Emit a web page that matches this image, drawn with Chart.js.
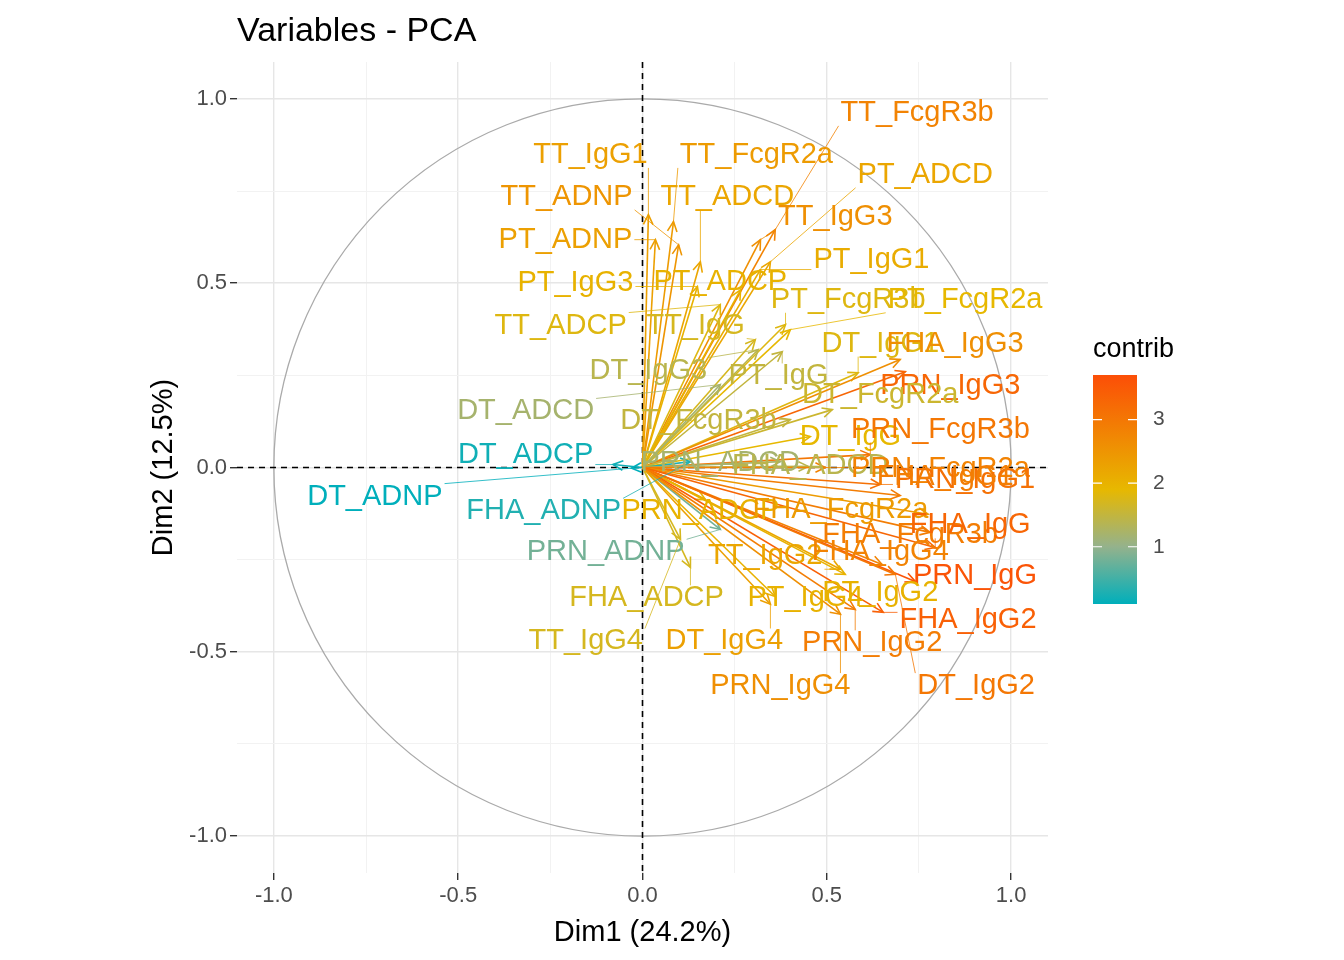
<!DOCTYPE html>
<html>
<head>
<meta charset="utf-8">
<script src="https://cdn.jsdelivr.net/npm/chart.js@4/dist/chart.umd.min.js"></script>
<style>
  body { margin:0; background:#fff; }
  #wrap { width:1344px; height:960px; }
</style>
</head>
<body>
<div id="wrap"><canvas id="pca"></canvas></div>
<script>
// variable names, coordinates on Dim1/Dim2 and contribution
var names = ["TT_IgG1","TT_FcgR2a","TT_FcgR3b","TT_ADNP","TT_ADCD","PT_ADCD","TT_IgG3","PT_ADNP","PT_IgG1","PT_IgG3",
  "PT_ADCP","PT_FcgR3b","PT_FcgR2a","TT_ADCP","TT_IgG","DT_IgG3","PT_IgG","DT_IgG1","FHA_IgG3","PRN_IgG3",
  "DT_ADCD","DT_FcgR2a","DT_FcgR3b","DT_IgG","PRN_FcgR3b","DT_ADCP","DT_ADNP","FHA_ADNP","PRN_ADCD","FHA_ADCD",
  "PRN_FcgR2a","PRN_IgG1","FHA_IgG1","PRN_ADCP","FHA_FcgR2a","FHA_FcgR3b","FHA_IgG","PRN_ADNP","TT_IgG2","FHA_IgG4",
  "PRN_IgG","FHA_ADCP","PT_IgG4","PT_IgG2","FHA_IgG2","TT_IgG4","DT_IgG4","PRN_IgG2","PRN_IgG4","DT_IgG2"];
var dim1 = [0.016,0.084,0.360,0.098,0.157,0.347,0.320,0.035,0.320,0.149,
  0.266,0.388,0.401,0.211,0.306,0.314,0.379,0.585,0.699,0.713,
  0.211,0.515,0.401,0.455,0.618,-0.080,-0.030,0.130,0.374,0.450,
  0.496,0.645,0.699,0.171,0.775,0.780,0.794,0.211,0.537,0.650,
  0.740,0.130,0.360,0.550,0.653,0.103,0.347,0.577,0.537,0.686];
var dim2 = [0.686,0.667,0.645,0.604,0.558,0.558,0.618,0.618,0.537,0.491,
  0.482,0.388,0.374,0.442,0.347,0.320,0.314,0.257,0.293,0.260,
  0.225,0.157,0.130,0.084,0.035,0.008,-0.002,0.016,0.016,0.003,
  0.000,-0.046,-0.076,-0.087,-0.127,-0.176,-0.217,-0.168,-0.276,-0.263,
  -0.309,-0.271,-0.350,-0.290,-0.393,-0.195,-0.371,-0.385,-0.398,-0.290];
var contrib = [2.3,2.4,2.8,2.5,2.2,2.2,2.6,2.3,2.1,2.0,
  2.0,1.8,1.9,1.8,1.7,1.4,1.5,1.8,2.6,3.3,
  1.2,1.6,1.5,1.9,3.0,0.2,0.1,0.3,1.2,1.4,
  2.8,3.1,2.9,2.0,2.4,2.9,3.3,0.8,2.2,2.8,
  3.6,1.7,2.0,2.0,3.4,1.7,2.3,2.9,2.6,3.0];
// repelled label centres (data units)
var labelX = [-0.141,0.309,0.745,-0.206,0.230,0.767,0.523,-0.209,0.621,-0.182,
  0.211,0.558,0.875,-0.222,0.144,0.016,0.369,0.645,0.848,0.835,
  -0.317,0.645,0.152,0.564,0.808,-0.317,-0.726,-0.268,0.211,0.455,
  0.808,0.875,0.821,0.157,0.537,0.726,0.889,-0.100,0.333,0.645,
  0.902,0.011,0.442,0.645,0.883,-0.154,0.222,0.623,0.374,0.905];
var labelY = [0.848,0.848,0.962,0.734,0.734,0.794,0.680,0.618,0.564,0.501,
  0.504,0.455,0.455,0.385,0.385,0.263,0.247,0.336,0.336,0.220,
  0.152,0.198,0.127,0.084,0.103,0.035,-0.079,-0.119,0.011,0.005,
  -0.005,-0.033,-0.027,-0.119,-0.114,-0.182,-0.157,-0.230,-0.241,-0.228,
  -0.295,-0.355,-0.355,-0.341,-0.415,-0.472,-0.472,-0.477,-0.593,-0.593];
var axisTicks = [-1, -0.75, -0.5, -0.25, 0, 0.25, 0.5, 0.75, 1];
var contribMin = 0.1, contribMax = 3.7;
var legendTicks = [1, 2, 3];
var gradStops = [0, 0.25, 0.5, 1];
var gradCols = [[0,175,187],[148,178,140],[231,184,0],[252,78,7]];

var FONT = "'Liberation Sans', Arial, sans-serif";

function colorFor(v){
  var t = (v - contribMin) / (contribMax - contribMin);
  t = Math.max(0, Math.min(1, t));
  var k = 0;
  while (k < gradStops.length - 2 && t > gradStops[k + 1]) k++;
  var u = (t - gradStops[k]) / (gradStops[k + 1] - gradStops[k]);
  var a = gradCols[k], b = gradCols[k + 1];
  var c = a.map(function(x, i){ return Math.round(x + (b[i] - x) * u); });
  return "rgb(" + c.join(",") + ")";
}

function isMajor(v){ return Math.abs(v * 2 - Math.round(v * 2)) < 1e-6; }

var pcaPlugin = {
  id: "pca",
  beforeDatasetsDraw: function(chart){
    var ctx = chart.ctx, xs = chart.scales.x, ys = chart.scales.y, a = chart.chartArea;
    ctx.save();
    var cx = xs.getPixelForValue(0), cy = ys.getPixelForValue(0);
    var r = xs.getPixelForValue(1) - cx;
    ctx.strokeStyle = "#aaaaaa"; ctx.lineWidth = 1.3;
    ctx.beginPath(); ctx.arc(cx, cy, r, 0, Math.PI * 2); ctx.stroke();
    ctx.strokeStyle = "#000"; ctx.lineWidth = 1.6; ctx.setLineDash([6, 5]);
    ctx.beginPath(); ctx.moveTo(a.left, cy); ctx.lineTo(a.right, cy); ctx.stroke();
    ctx.beginPath(); ctx.moveTo(cx, a.top); ctx.lineTo(cx, a.bottom); ctx.stroke();
    ctx.restore();
  },
  afterDatasetsDraw: function(chart){
    var ctx = chart.ctx, xs = chart.scales.x, ys = chart.scales.y;
    var ox = xs.getPixelForValue(0), oy = ys.getPixelForValue(0);
    ctx.save();
    ctx.font = "29px " + FONT;
    ctx.textAlign = "center"; ctx.textBaseline = "middle";
    names.forEach(function(n, i){
      var px = xs.getPixelForValue(dim1[i]), py = ys.getPixelForValue(dim2[i]);
      ctx.strokeStyle = colorFor(contrib[i]); ctx.lineWidth = 1.6;
      ctx.beginPath(); ctx.moveTo(ox, oy); ctx.lineTo(px, py); ctx.stroke();
      var ang = Math.atan2(py - oy, px - ox), h = 11;
      ctx.beginPath();
      ctx.moveTo(px - h * Math.cos(ang - 0.45), py - h * Math.sin(ang - 0.45));
      ctx.lineTo(px, py);
      ctx.lineTo(px - h * Math.cos(ang + 0.45), py - h * Math.sin(ang + 0.45));
      ctx.stroke();
    });
    names.forEach(function(n, i){
      var px = xs.getPixelForValue(dim1[i]), py = ys.getPixelForValue(dim2[i]);
      var lx = xs.getPixelForValue(labelX[i]), ly = ys.getPixelForValue(labelY[i]);
      var w = ctx.measureText(n).width / 2 + 2, hh = 13;
      var qx = Math.max(lx - w, Math.min(lx + w, px));
      var qy = Math.max(ly - hh, Math.min(ly + hh, py));
      var col = colorFor(contrib[i]);
      if (Math.hypot(qx - px, qy - py) > 8) {
        ctx.strokeStyle = col; ctx.lineWidth = 0.8;
        ctx.beginPath(); ctx.moveTo(px, py); ctx.lineTo(qx, qy); ctx.stroke();
      }
      ctx.fillStyle = col;
      ctx.fillText(n, lx, ly);
    });
    ctx.restore();
  },
  afterDraw: function(chart){
    var ctx = chart.ctx, a = chart.chartArea;
    ctx.save();
    ctx.fillStyle = "#000";
    ctx.font = "34px " + FONT; ctx.textAlign = "left"; ctx.textBaseline = "alphabetic";
    ctx.fillText("Variables - PCA", a.left, 41);
    ctx.font = "29px " + FONT; ctx.textAlign = "center";
    ctx.fillText("Dim1 (24.2%)", (a.left + a.right) / 2, 941);
    ctx.save();
    ctx.translate(172, (a.top + a.bottom) / 2); ctx.rotate(-Math.PI / 2);
    ctx.fillText("Dim2 (12.5%)", 0, 0);
    ctx.restore();
    // colour bar legend
    var bx = 1093, bw = 44, top = 375, bot = 604;
    var g = ctx.createLinearGradient(0, bot, 0, top);
    gradStops.forEach(function(s, k){ g.addColorStop(s, "rgb(" + gradCols[k].join(",") + ")"); });
    ctx.fillStyle = g; ctx.fillRect(bx, top, bw, bot - top);
    ctx.textAlign = "left";
    ctx.fillStyle = "#000"; ctx.font = "27px " + FONT;
    ctx.fillText("contrib", bx, 357);
    ctx.font = "21px " + FONT; ctx.fillStyle = "#4d4d4d"; ctx.textBaseline = "middle";
    legendTicks.forEach(function(t){
      var y = bot - (t - contribMin) / (contribMax - contribMin) * (bot - top);
      ctx.strokeStyle = "#fff"; ctx.lineWidth = 1.2;
      ctx.beginPath(); ctx.moveTo(bx, y); ctx.lineTo(bx + 9, y);
      ctx.moveTo(bx + bw - 9, y); ctx.lineTo(bx + bw, y); ctx.stroke();
      ctx.fillText(String(t), 1153, y);
    });
    ctx.restore();
  }
};

function axisOpts(){
  return {
    type: "linear", min: -1.1, max: 1.1,
    border: { display: false },
    afterBuildTicks: function(s){ s.ticks = axisTicks.map(function(v){ return { value: v }; }); },
    grid: {
      color: function(c){ return isMajor(c.tick.value) ? "#e6e6e6" : "#f2f2f2"; },
      lineWidth: function(c){ return isMajor(c.tick.value) ? 1.4 : 1; },
      tickColor: function(c){ return isMajor(c.tick.value) ? "#333" : "rgba(0,0,0,0)"; },
      tickLength: 7
    },
    ticks: {
      autoSkip: false, maxRotation: 0,
      color: "#4d4d4d", font: { family: FONT, size: 22 },
      callback: function(v){ return isMajor(v) ? v.toFixed(1) : ""; }
    }
  };
}

var xOpt = axisOpts();
xOpt.afterFit = function(s){ s.height = 87; };
var yOpt = axisOpts();
yOpt.afterFit = function(s){ s.width = 237; };

new Chart(document.getElementById("pca"), {
  type: "scatter",
  data: {
    datasets: [{
      data: names.map(function(n, i){ return { x: dim1[i], y: dim2[i] }; }),
      pointRadius: 0, pointHoverRadius: 0
    }]
  },
  options: {
    responsive: true, maintainAspectRatio: false, animation: false,
    layout: { padding: { left: 0, right: 296, top: 62, bottom: 0 } },
    plugins: { legend: { display: false }, tooltip: { enabled: false } },
    scales: { x: xOpt, y: yOpt }
  },
  plugins: [pcaPlugin]
});
</script>
</body>
</html>
